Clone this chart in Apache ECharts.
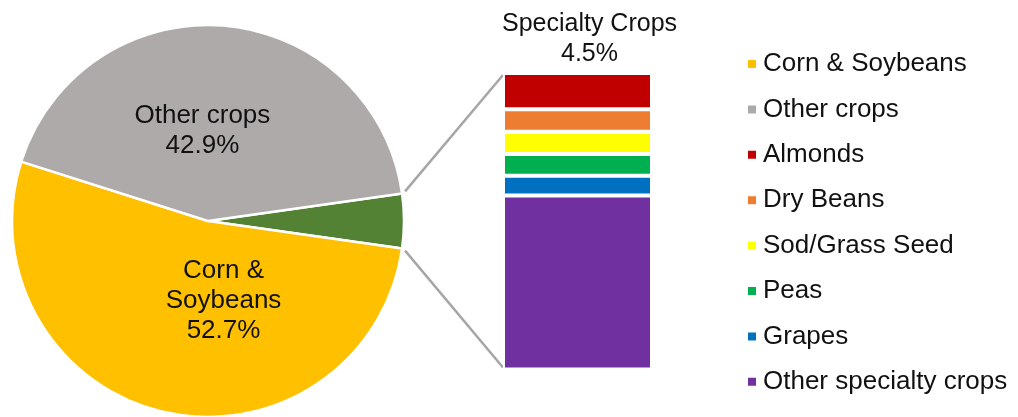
<!DOCTYPE html>
<html>
<head>
<meta charset="utf-8">
<script src="https://cdn.jsdelivr.net/npm/echarts@6/dist/echarts.min.js"></script>
<style>
html,body{margin:0;padding:0;background:#fff;}
#chart{width:1018px;height:417px;}
</style>
</head>
<body>
<div id="chart"></div>
<script>
// ---- data ----
const pieNames = ['Specialty Crops', 'Corn & Soybeans', 'Other crops'];
const pieLabels = ['', 'Corn &\nSoybeans', 'Other crops'];
const pieValues = [4.5, 52.7, 42.9];
const pieColors = ['#548235', '#FFC000', '#AEAAAA'];

// stacked bottom -> top
const barNames = ['Other specialty crops', 'Grapes', 'Peas', 'Sod/Grass Seed', 'Dry Beans', 'Almonds'];
const barValues = [2.64, 0.30, 0.33, 0.34, 0.34, 0.55];
const barColors = ['#7030A0', '#0070C0', '#00B050', '#FFFF00', '#ED7D31', '#C00000'];

const legendOrder = ['Corn & Soybeans', 'Other crops', 'Almonds', 'Dry Beans', 'Sod/Grass Seed', 'Peas', 'Grapes', 'Other specialty crops'];

// ---- layout ----
const FONT = "'Liberation Sans', Arial, sans-serif";
const pieCenter = [208, 221];
const pieRadius = 196;
const pieTotal = pieValues.reduce((a, b) => a + b, 0);
const startAngle = pieValues[0] / pieTotal * 360 / 2;
const labelShift = [[0, 0], [19, -9.5], [-7, 5]];
const barTotal = barValues.reduce((a, b) => a + b, 0);

const chart = echarts.init(document.getElementById('chart'), null, {renderer: 'canvas'});

const series = [{
  type: 'pie',
  center: pieCenter,
  radius: pieRadius,
  startAngle: startAngle,
  clockwise: true,
  silent: true,
  animation: false,
  itemStyle: {borderColor: '#fff', borderWidth: 2.5},
  label: {
    show: true,
    position: 'inside',
    color: '#111',
    fontFamily: FONT,
    fontSize: 26,
    lineHeight: 30,
    formatter: p => p.dataIndex === 0 ? '' : pieLabels[p.dataIndex] + '\n' + p.value.toFixed(1) + '%'
  },
  labelLayout: p => ({dx: labelShift[p.dataIndex][0], dy: labelShift[p.dataIndex][1]}),
  labelLine: {show: false},
  emphasis: {disabled: true},
  data: pieNames.map((n, i) => ({name: n, value: pieValues[i], itemStyle: {color: pieColors[i]}}))
}];

barNames.forEach((n, i) => {
  series.push({
    type: 'bar',
    name: n,
    stack: 'sp',
    barWidth: '100%',
    silent: true,
    animation: false,
    itemStyle: {color: barColors[i], borderColor: '#fff', borderWidth: 2},
    emphasis: {disabled: true},
    label: i === barNames.length - 1 ? {
      show: true,
      position: 'top',
      distance: 4,
      offset: [12, 0],
      color: '#111',
      fontFamily: FONT,
      fontSize: 25,
      lineHeight: 30,
      align: 'center',
      formatter: () => 'Specialty Crops\n' + pieValues[0].toFixed(1) + '%'
    } : {show: false},
    data: [barValues[i]]
  });
});

const option = {
  animation: false,
  backgroundColor: '#fff',
  grid: {left: 503, top: 73, width: 149, height: 296.5, containLabel: false},
  xAxis: {type: 'category', data: ['Specialty'], show: false},
  yAxis: {type: 'value', min: 0, max: barTotal, show: false},
  legend: {
    orient: 'vertical',
    left: 746,
    top: 49,
    padding: 0,
    icon: 'rect',
    itemWidth: 10,
    itemHeight: 10,
    itemGap: 15.4,
    selectedMode: false,
    textStyle: {color: '#111', fontFamily: FONT, fontSize: 26, lineHeight: 30, padding: [0, 0, 0, 1]},
    data: legendOrder
  },
  color: pieColors,
  series: series
};
chart.setOption(option);

// connector lines from the specialty slice edges to the stacked bar corners
const a1 = startAngle * Math.PI / 180;
const a2 = -startAngle * Math.PI / 180;
const p1 = [pieCenter[0] + pieRadius * Math.cos(a1), pieCenter[1] - pieRadius * Math.sin(a1)];
const p2 = [pieCenter[0] + pieRadius * Math.cos(a2), pieCenter[1] - pieRadius * Math.sin(a2)];
const barLeft = option.grid.left;
const yTop = chart.convertToPixel({yAxisIndex: 0}, barTotal) + 2;
const yBot = chart.convertToPixel({yAxisIndex: 0}, 0) - 2;
chart.setOption({
  graphic: [
    {type: 'line', shape: {x1: p1[0] + 3, y1: p1[1] - 2, x2: barLeft, y2: yTop}, style: {stroke: '#A6A6A6', lineWidth: 2.5}, silent: true},
    {type: 'line', shape: {x1: p2[0] + 3, y1: p2[1] + 2, x2: barLeft, y2: yBot}, style: {stroke: '#A6A6A6', lineWidth: 2.5}, silent: true}
  ]
});
</script>
</body>
</html>
